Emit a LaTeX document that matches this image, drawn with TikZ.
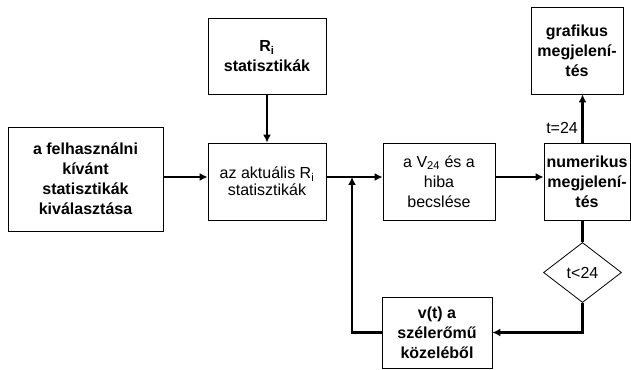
\documentclass[tikz,border=0pt]{standalone}
\usepackage{fontspec}
\setmainfont{Liberation Sans}
\usetikzlibrary{calc, arrows.meta, positioning, shapes.geometric}

\tikzset{
    blokk/.style={draw, line width=0.8pt, inner sep=0pt, align=center,
        font=\fontsize{16}{20}\selectfont},
    vastag/.style={blokk, font=\fontsize{16}{20}\selectfont\bfseries},
    nyil/.style={line width=2.6pt, -{Latex[length=8pt,width=8pt]}},
    vonal/.style={line width=2.6pt}
}

\begin{document}
\begin{tikzpicture}[x=1pt, y=1pt]
        \useasboundingbox (0,0) rectangle (631,369);
        \coordinate (fovonal) at (0,192);
        \coordinate (hurok) at (352,0);

        \node[vastag, minimum width=155pt, minimum height=104pt] (felh) at (85.5,190)
            {a felhasználni\\kívánt\\statisztikák\\kiválasztása};
        \node[vastag, minimum width=118pt, minimum height=76pt] (ri) at (267,313)
            {R\textsubscript{i}\\statisztikák};
        \node[blokk, minimum width=118pt, minimum height=77pt,
            font=\fontsize{16}{17}\selectfont] (akt) at (267,187.5)
            {az aktuális R\textsubscript{i}\\statisztikák};
        \node[blokk, minimum width=112pt, minimum height=77pt] (becs) at (439,187.5)
            {a V\textsubscript{24} és a\\hiba\\becslése};
        \node[vastag, minimum width=86pt, minimum height=77pt] (num) at (587,187.5)
            {numerikus\\megjelení-\\tés};
        \node[vastag, minimum width=92pt, minimum height=87pt] (graf) at (577,318.5)
            {grafikus\\megjelení-\\tés};
        \node[draw, diamond, line width=0.8pt, inner sep=0pt, aspect=1.3,
            minimum width=78pt, minimum height=60pt,
            font=\fontsize{16}{20}\selectfont] (dont) at (582.5,96.5) {t<24};
        \node[vastag, minimum width=110pt, minimum height=71pt] (szel) at (437,36.5)
            {v(t) a\\szélerőmű\\közeléből};

        \draw[nyil] (felh.east |- fovonal) -- (akt.west |- fovonal);
        \draw[nyil] (ri.south) -- (akt.north);
        \draw[nyil] (akt.east |- fovonal) -- (becs.west |- fovonal);
        \draw[nyil] (becs.east |- fovonal) -- (num.west |- fovonal);
        \draw[nyil] (dont.north |- num.north) -- (dont.north |- graf.south)
            node[pos=0.3, left=0pt, font=\fontsize{16}{20}\selectfont] {t=24};
        \draw[vonal] (dont.north |- num.south) -- (dont.north);
        \draw[nyil] (dont.south) |- (szel.east);
        \draw[nyil] (szel.west) -| (hurok |- fovonal);
    \end{tikzpicture}
\end{document}
